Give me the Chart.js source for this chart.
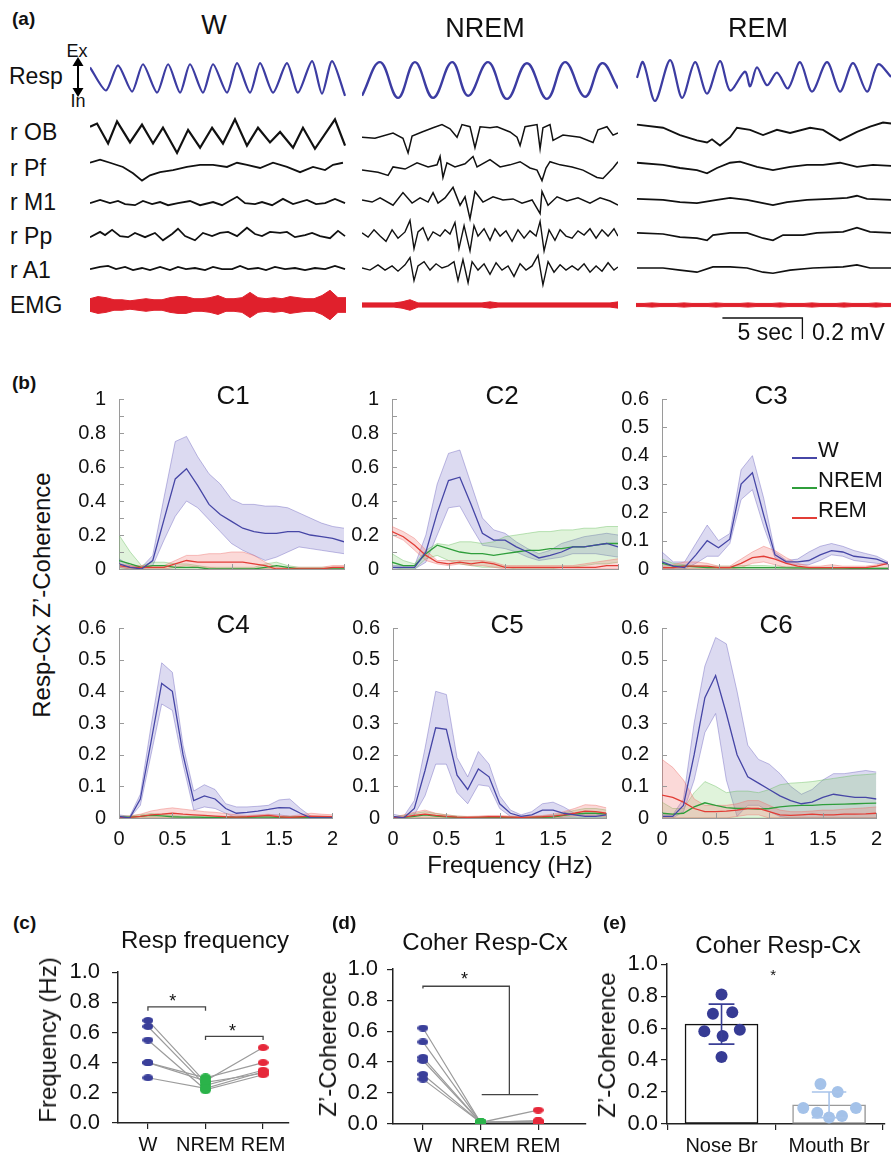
<!DOCTYPE html>
<html>
<head>
<meta charset="utf-8">
<script src="https://cdn.jsdelivr.net/npm/chart.js@4.4.1/dist/chart.umd.min.js"></script>
<style>
  body { margin: 0; background: #fff; }
  #page { position: relative; width: 891px; height: 1153px; overflow: hidden; background: #fff;
          font-family: "Liberation Sans", Arial, sans-serif; color: #111; }
  #page canvas { position: absolute; }
  .t { position: absolute; white-space: nowrap; line-height: 1; }
</style>
</head>
<body>
<div id="page"></div>
<script>
// ---------- (a) raw traces: [time s, amplitude] ; EEG amplitude in 10 uV units, resp arbitrary ----------
const RESP_W = [[0,12],[1.0,-10],[1.75,14],[2.63,-11],[3.31,15],[4.19,-12],[4.88,15],[5.63,-12],[6.25,15],[7.06,-12],[7.69,15],[8.56,-12],[9.19,16],[10.0,-12],[10.63,16],[11.44,-12],[12.31,16],[13.0,-12],[13.88,18],[14.5,-13],[15.13,18],[15.94,-15]];
const OB_W = [[0,6],[0.44,9],[1.13,-10],[1.69,11],[2.5,-9],[3.25,8],[3.94,-10],[4.56,5],[5.44,-19],[6.13,3],[6.88,-14],[7.63,5],[8.31,-10],[9.06,13],[9.81,-12],[10.5,5],[11.25,-9],[11.88,1],[12.69,-14],[13.31,5],[14.06,-15],[15.31,13],[15.94,-12]];
const PF_W = [[0,5],[0.63,8],[1.25,5],[2.06,1],[2.69,-5],[3.25,-12],[3.75,-7],[4.38,-4],[5.19,-2],[6.06,1],[6.88,3],[7.69,3],[8.56,1],[9.19,5],[9.81,3],[10.63,0],[11.44,5],[12.31,1],[13.13,-4],[13.94,1],[14.69,-2],[15.19,3],[15.81,5]];
const M1_W = [[0,-2],[0.63,1],[1.25,-2],[1.75,0],[2.19,-3],[2.81,-4],[3.31,0],[3.88,-3],[4.38,-1],[4.88,-4],[5.5,-2],[6.25,0],[6.88,-4],[7.69,-1],[8.25,-4],[9.19,4],[9.69,-2],[10.31,-3],[10.75,-1],[11.38,-4],[12.06,2],[12.69,-3],[13.56,1],[14.13,-3],[14.69,-2],[15.31,2],[15.94,-2]];
const PP_W = [[0,-3],[0.63,2],[0.94,-1],[1.38,4],[1.88,-2],[2.38,-3],[2.81,1],[3.44,-3],[4.06,1],[4.56,-6],[5.13,0],[5.5,5],[5.94,-2],[6.56,-6],[7.06,1],[7.63,-2],[8.13,1],[8.63,2],[9.19,-2],[9.81,6],[10.31,0],[10.75,-2],[11.25,2],[11.88,1],[12.31,2],[12.81,-3],[13.44,-1],[13.88,1],[14.38,-2],[15.0,-4],[15.5,3],[15.94,-2]];
const A1_W = [[0,-1],[0.63,1],[1.13,2],[1.63,-1],[2.19,1],[2.69,-2],[3.25,0],[3.75,-2],[4.38,1],[5.0,-2],[5.5,1],[6.0,-1],[6.56,0],[7.19,-2],[7.69,1],[8.25,-1],[8.88,-1],[9.38,2],[9.88,-1],[10.5,0],[11.0,-2],[11.56,1],[12.19,-1],[12.81,0],[13.44,-2],[14.06,0],[14.69,-1],[15.31,2],[15.94,-1]];

const RESP_NREM = [[0,-15],[1.13,17],[2.25,-17],[3.31,17],[4.44,-17],[5.63,17],[6.63,-15],[7.88,17],[9.06,-18],[10.31,16],[11.56,-18],[12.69,17],[13.94,-16],[15.0,16],[16.0,-8]];
const OB_NREM = [[0,-4],[0.81,-5],[1.94,0],[2.56,-5],[2.88,-19],[3.13,-3],[3.75,1],[4.44,5],[5.0,8],[5.5,4],[5.94,-4],[6.25,8],[6.75,6],[7.06,-14],[7.38,6],[8.0,5],[8.44,6],[9.25,1],[9.69,-4],[9.88,-12],[10.19,6],[10.94,8],[11.13,-15],[11.31,5],[11.75,8],[11.94,-7],[12.56,-2],[13.63,-4],[14.44,-9],[14.75,3],[15.31,6],[15.69,-2],[16.0,0]];
const PF_NREM = [[0,-2],[1.0,-4],[1.63,-7],[1.94,1],[2.69,-1],[3.44,5],[4.13,1],[4.69,3],[4.88,11],[5.06,-9],[5.31,5],[5.81,1],[6.44,4],[6.94,11],[7.19,1],[8.0,8],[8.63,1],[9.25,3],[9.88,6],[10.5,0],[10.94,-2],[11.25,-12],[11.5,0],[11.75,6],[12.38,3],[13.13,1],[13.81,-2],[14.69,-9],[15.06,-10],[15.69,0],[16.0,6]];
const M1_NREM = [[0,1],[0.63,-1],[1.13,3],[1.94,-4],[2.56,8],[3.13,-2],[3.63,3],[4.13,-1],[4.44,8],[4.75,-2],[5.19,3],[5.69,13],[6.13,-4],[6.44,4],[6.75,-17],[7.06,9],[7.56,-1],[8.19,4],[8.81,1],[9.44,2],[10.0,-2],[10.63,1],[11.13,-12],[11.25,9],[11.63,-4],[12.19,4],[12.81,0],[13.5,3],[14.25,-2],[14.88,3],[15.5,0],[16.0,-4]];
const PP_NREM = [[0,1],[0.38,-3],[0.75,4],[1.13,-2],[1.5,-7],[1.88,4],[2.25,-4],[2.69,2],[3.0,13],[3.25,-14],[3.5,2],[3.81,6],[4.13,-6],[4.44,2],[4.88,-2],[5.19,4],[5.5,0],[5.81,11],[6.06,-14],[6.38,8],[6.75,-16],[7.0,8],[7.25,-2],[7.63,5],[8.0,-6],[8.31,5],[8.63,-2],[9.0,3],[9.38,-7],[9.75,4],[10.13,-4],[10.5,3],[10.88,-2],[11.13,12],[11.38,-16],[11.69,4],[12.06,-6],[12.38,4],[12.75,-2],[13.13,-4],[13.5,3],[13.88,-1],[14.25,5],[14.63,-4],[15.0,4],[15.38,-2],[15.75,5],[16.0,-2]];
const A1_NREM = [[0,0],[0.5,-2],[1.0,3],[1.44,-2],[1.88,2],[2.25,-3],[2.69,3],[3.0,10],[3.25,-12],[3.5,2],[3.88,6],[4.25,-2],[4.63,4],[5.0,0],[5.38,2],[5.75,6],[6.0,-12],[6.31,8],[6.63,-14],[6.88,6],[7.25,-2],[7.63,4],[8.0,-6],[8.38,5],[8.75,-2],[9.13,2],[9.5,-8],[9.88,4],[10.25,-2],[10.63,2],[11.0,12],[11.31,-16],[11.63,6],[12.0,-4],[12.38,3],[12.75,-2],[13.13,2],[13.5,-2],[13.88,4],[14.25,-4],[14.63,2],[15.0,-3],[15.38,5],[15.75,-2],[16.0,1]];

const RESP_REM = [[0.06,2],[0.44,17],[1.19,-20],[2.13,19],[2.88,-17],[3.69,17],[4.44,-13],[5.25,18],[5.88,-10],[6.81,8],[7.13,-6],[7.56,12],[8.19,-5],[8.81,7],[9.5,-8],[10.25,17],[11.0,-11],[11.94,17],[12.75,-11],[13.56,16],[14.44,-11],[15.13,15],[15.94,3]];
const OB_REM = [[0.06,8],[1.69,5],[2.75,-2],[3.81,-7],[4.44,-9],[4.75,-6],[5.25,-12],[5.88,-4],[6.31,5],[7.13,3],[7.94,-2],[8.81,3],[9.63,0],[10.88,5],[11.69,3],[12.75,-7],[13.81,1],[14.63,6],[15.44,10],[15.94,9]];
const PF_REM = [[0.06,5],[1.69,3],[2.75,0],[3.81,-2],[4.44,-5],[5.06,0],[5.88,5],[6.5,6],[7.56,1],[8.56,-2],[9.63,1],[10.69,3],[11.69,3],[12.75,5],[13.81,1],[14.81,3],[15.94,2]];
const M1_REM = [[0.06,2],[1.69,1],[2.75,-1],[3.81,-2],[5.06,1],[5.88,3],[6.94,1],[7.94,-2],[8.56,-4],[9.44,-1],[10.69,1],[12.13,2],[13.19,3],[13.81,5],[14.44,2],[15.94,1]];
const PP_REM = [[0.06,1],[1.69,0],[2.75,-3],[3.81,-4],[4.44,-6],[4.81,-1],[5.88,1],[6.94,1],[7.94,-4],[8.56,-6],[9.19,-1],[10.44,-1],[11.31,1],[12.94,2],[13.81,6],[14.63,2],[15.94,1]];
const A1_REM = [[0.06,0],[1.69,0],[2.75,-2],[3.81,-4],[4.81,1],[5.88,1],[6.94,0],[7.94,-4],[8.56,-5],[9.63,-2],[11.06,0],[12.94,1],[13.81,3],[14.63,0],[15.94,0]];

// EMG envelope half-width (10 uV units), sampled every 0.5 s
const EMG_T = [0,0.5,1,1.5,2,2.5,3,3.5,4,4.5,5,5.5,6,6.5,7,7.5,8,8.5,9,9.5,10,10.5,11,11.5,12,12.5,13,13.5,14,14.5,15,15.5,16];
const EMG_W = [6,8,7,5,5,4,5,6,5,5,7,8,8,6,6,7,9,6,6,7,12,7,6,7,6,8,7,6,6,9,14,7,7];
const EMG_NREM = [2,2,2,2,2,3,5,2,2,2,2,2,2,2,2,2,3,2,2,2,2,2,2,2,2,2,2,2,2,2,2,2,3];
const EMG_REM = [1.5,1.5,2,1.5,1.5,1.5,2,1.5,1.5,1.5,2, 1.5,1.5,1.5,2,1.5,1.5,1.5,2,1.5,1.5,1.5, 2,1.5,1.5,1.5,2,1.5,1.5,1.5,2,1.5,1.5];
const SCALE_SEC = 5, SCALE_MV = 0.2;

// ---------- (b) Resp-Cx Z'-coherence spectra ----------
const FREQ = [0,0.1,0.2,0.3,0.4,0.5,0.6,0.7,0.8,0.9,1,1.1,1.2,1.3,1.4,1.5,1.6,1.7,1.8,1.9,2];
const ZERO21 = [0,0,0,0,0,0,0,0,0,0,0,0,0,0,0,0,0,0,0,0,0];

const C1_W_MEAN = [0.03,0.01,0.00,0.05,0.29,0.53,0.59,0.49,0.38,0.32,0.28,0.24,0.22,0.21,0.21,0.22,0.22,0.20,0.19,0.18,0.16];
const C1_W_HI   = [0.06,0.02,0.01,0.08,0.42,0.75,0.78,0.66,0.56,0.50,0.41,0.38,0.38,0.37,0.37,0.36,0.33,0.30,0.27,0.25,0.24];
const C1_W_LO   = [0.01,0.00,0.00,0.02,0.17,0.31,0.40,0.36,0.29,0.22,0.15,0.11,0.08,0.05,0.07,0.10,0.13,0.12,0.11,0.10,0.09];
const C1_N_MEAN = [0.05,0.03,0.01,0.02,0.02,0.01,0.01,0.01,0.00,0.00,0.00,0.00,0.00,0.01,0.02,0.01,0.00,0.00,0.00,0.00,0.00];
const C1_N_HI   = [0.20,0.10,0.02,0.04,0.04,0.03,0.03,0.02,0.01,0.01,0.01,0.01,0.01,0.03,0.04,0.02,0.01,0.01,0.01,0.01,0.01];
const C1_R_MEAN = [0.02,0.01,0.01,0.01,0.01,0.03,0.05,0.04,0.04,0.04,0.04,0.04,0.03,0.02,0.00,0.00,0.00,0.00,0.00,0.01,0.01];
const C1_R_HI   = [0.03,0.02,0.02,0.02,0.02,0.05,0.08,0.08,0.09,0.09,0.10,0.10,0.08,0.04,0.01,0.01,0.01,0.01,0.01,0.02,0.02];
const C1_R_LO   = [0.01,0,0,0,0,0.01,0.02,0.01,0.01,0,0,0,0,0,0,0,0,0,0,0,0];

const C2_W_MEAN = [0.01,0.01,0.01,0.10,0.33,0.52,0.54,0.38,0.21,0.17,0.17,0.13,0.10,0.065,0.08,0.10,0.13,0.13,0.14,0.15,0.13];
const C2_W_HI   = [0.02,0.02,0.02,0.20,0.50,0.68,0.70,0.50,0.30,0.23,0.21,0.16,0.12,0.09,0.11,0.15,0.17,0.19,0.20,0.21,0.20];
const C2_W_LO   = [0.00,0.00,0.00,0.04,0.20,0.36,0.37,0.25,0.14,0.13,0.12,0.10,0.07,0.05,0.06,0.07,0.09,0.09,0.09,0.08,0.07];
const C2_N_MEAN = [0.04,0.02,0.02,0.09,0.14,0.12,0.10,0.09,0.09,0.08,0.09,0.10,0.11,0.11,0.12,0.12,0.13,0.13,0.14,0.15,0.15];
const C2_N_HI   = [0.09,0.05,0.03,0.11,0.15,0.14,0.16,0.16,0.15,0.16,0.19,0.20,0.21,0.22,0.22,0.23,0.23,0.24,0.24,0.25,0.25];
const C2_N_LO   = [0.01,0.00,0.00,0.06,0.08,0.05,0.03,0.02,0.01,0.01,0.01,0.00,0.00,0.00,0.00,0.01,0.01,0.02,0.03,0.03,0.04];
const C2_R_MEAN = [0.22,0.19,0.14,0.08,0.04,0.03,0.04,0.03,0.04,0.03,0.01,0.01,0.01,0.01,0.01,0.01,0.01,0.01,0.01,0.02,0.02];
const C2_R_HI   = [0.25,0.22,0.18,0.11,0.05,0.05,0.05,0.05,0.05,0.04,0.02,0.02,0.02,0.02,0.02,0.02,0.02,0.03,0.04,0.05,0.06];
const C2_R_LO   = [0.20,0.17,0.11,0.05,0.03,0.02,0.03,0.02,0.02,0.01,0,0,0,0,0,0,0,0,0,0,0];

const C3_W_MEAN = [0.025,0.01,0.005,0.05,0.10,0.075,0.105,0.30,0.34,0.19,0.05,0.025,0.025,0.03,0.05,0.065,0.06,0.045,0.04,0.035,0.02];
const C3_W_HI   = [0.06,0.025,0.025,0.09,0.155,0.10,0.125,0.35,0.40,0.25,0.06,0.03,0.035,0.06,0.08,0.09,0.08,0.065,0.055,0.045,0.025];
const C3_W_LO   = [0,0,0,0.02,0.045,0.045,0.09,0.245,0.28,0.15,0.04,0.02,0.015,0.015,0.03,0.05,0.045,0.03,0.025,0.02,0.015];
const C3_N_MEAN = [0.02,0.01,0.01,0.008,0.005,0.005,0.005,0.005,0.005,0.005,0.005,0.004,0.004,0.003,0.003,0.003,0.003,0.002,0.002,0.002,0.002];
const C3_N_HI   = [0.035,0.02,0.015,0.012,0.01,0.01,0.01,0.012,0.012,0.012,0.01,0.008,0.008,0.006,0.006,0.006,0.005,0.005,0.004,0.004,0.004];
const C3_R_MEAN = [0.005,0.005,0.01,0.01,0.01,0.005,0.005,0.02,0.04,0.045,0.035,0.02,0.01,0.005,0.005,0.005,0.005,0.005,0.005,0.01,0.02];
const C3_R_HI   = [0.01,0.015,0.025,0.025,0.02,0.01,0.01,0.035,0.06,0.08,0.065,0.04,0.02,0.01,0.01,0.015,0.01,0.01,0.01,0.015,0.025];
const C3_R_LO   = [0,0,0,0,0,0,0,0.005,0.02,0.025,0.015,0.005,0,0,0,0,0,0,0,0,0];

const C4_W_MEAN = [0.005,0.0,0.06,0.24,0.425,0.40,0.20,0.055,0.07,0.06,0.03,0.015,0.018,0.022,0.027,0.033,0.032,0.015,0.0,0.0,0.0];
const C4_W_HI   = [0.01,0.005,0.075,0.29,0.49,0.46,0.23,0.085,0.105,0.09,0.045,0.035,0.035,0.037,0.04,0.057,0.06,0.03,0.005,0.0,0.0];
const C4_W_LO   = [0,0,0.04,0.20,0.36,0.34,0.17,0.025,0.035,0.03,0.015,0,0,0.005,0.01,0.01,0.005,0,0,0,0];
const C4_N_MEAN = [0.003,0.003,0.005,0.008,0.007,0.004,0.003,0.003,0.002,0.002,0.002,0.002,0.002,0.003,0.003,0.002,0.002,0.002,0.002,0.002,0.002];
const C4_N_HI   = [0.006,0.006,0.01,0.014,0.012,0.008,0.006,0.006,0.005,0.005,0.005,0.005,0.005,0.006,0.006,0.005,0.005,0.005,0.005,0.005,0.005];
const C4_R_MEAN = [0.0,0.002,0.005,0.01,0.012,0.015,0.012,0.01,0.008,0.006,0.004,0.003,0.004,0.006,0.008,0.004,0.002,0.004,0.006,0.005,0.004];
const C4_R_HI   = [0.005,0.007,0.012,0.022,0.028,0.032,0.028,0.024,0.02,0.018,0.014,0.01,0.008,0.01,0.012,0.008,0.006,0.01,0.015,0.012,0.01];

const C5_W_MEAN = [0.005,0.0,0.03,0.15,0.285,0.28,0.135,0.09,0.155,0.13,0.045,0.015,0.005,0.01,0.025,0.025,0.015,0.01,0.005,0.005,0.01];
const C5_W_HI   = [0.012,0.005,0.055,0.22,0.40,0.39,0.19,0.13,0.21,0.17,0.07,0.025,0.01,0.02,0.045,0.05,0.035,0.015,0.01,0.01,0.015];
const C5_W_LO   = [0,0,0.01,0.07,0.17,0.17,0.08,0.045,0.105,0.10,0.03,0.005,0,0,0.005,0.005,0,0,0,0,0];
const C5_N_MEAN = [0.0,0.002,0.005,0.01,0.006,0.004,0.002,0.001,0.001,0.001,0.001,0.001,0.001,0.001,0.002,0.003,0.008,0.012,0.015,0.015,0.012];
const C5_N_HI   = [0.004,0.008,0.014,0.02,0.014,0.01,0.006,0.004,0.004,0.004,0.004,0.004,0.004,0.004,0.006,0.008,0.016,0.024,0.03,0.03,0.025];
const C5_R_MEAN = [0.0,0.003,0.008,0.012,0.008,0.005,0.003,0.002,0.003,0.004,0.004,0.003,0.002,0.003,0.004,0.006,0.01,0.015,0.022,0.02,0.015];
const C5_R_HI   = [0.002,0.01,0.018,0.025,0.015,0.01,0.006,0.005,0.006,0.008,0.008,0.006,0.005,0.006,0.008,0.012,0.02,0.03,0.042,0.04,0.032];
const C5_R_LO   = [0,0,0,0.002,0,0,0,0,0,0,0,0,0,0,0,0,0.003,0.006,0.008,0.006,0.004];

const C6_W_MEAN = [0.005,0.005,0.04,0.20,0.38,0.45,0.33,0.20,0.13,0.11,0.09,0.07,0.055,0.045,0.05,0.065,0.075,0.07,0.065,0.065,0.06];
const C6_W_HI   = [0.01,0.01,0.06,0.30,0.48,0.57,0.55,0.40,0.23,0.185,0.17,0.14,0.10,0.075,0.09,0.12,0.14,0.14,0.145,0.15,0.145];
const C6_W_LO   = [0,0,0.02,0.12,0.27,0.33,0.12,0.005,0.04,0.04,0.02,0.005,0,0,0,0,0,0,0,0,0];
const C6_N_MEAN = [0.015,0.012,0.015,0.035,0.048,0.04,0.033,0.03,0.03,0.028,0.03,0.035,0.038,0.04,0.04,0.042,0.043,0.044,0.045,0.046,0.047];
const C6_N_HI   = [0.05,0.03,0.03,0.08,0.115,0.10,0.08,0.085,0.085,0.08,0.09,0.105,0.11,0.112,0.115,0.12,0.125,0.13,0.135,0.137,0.14];
const C6_R_MEAN = [0.072,0.065,0.05,0.03,0.02,0.02,0.022,0.025,0.03,0.03,0.02,0.01,0.008,0.01,0.012,0.01,0.01,0.012,0.012,0.013,0.015];
const C6_R_HI   = [0.185,0.16,0.12,0.06,0.04,0.04,0.04,0.045,0.055,0.055,0.04,0.025,0.02,0.02,0.022,0.025,0.025,0.028,0.03,0.032,0.035];
const C6_R_LO   = [0,0,0,0,0,0,0,0.005,0.01,0.01,0,0,0,0,0,0,0,0,0,0,0];

// ---------- (c) resp frequency, (d) coherence per state, 6 animals ----------
const STATES = ['W', 'NREM', 'REM'];
const RESPF_W = [0.68, 0.64, 0.55, 0.40, 0.40, 0.30];
const RESPF_NREM = [0.27, 0.25, 0.22, 0.30, 0.28, 0.23];
const RESPF_REM = [0.33, 0.35, 0.32, 0.40, 0.50, 0.34];
const COH_W = [0.62, 0.53, 0.43, 0.41, 0.32, 0.29];
const COH_NREM = [0.01, 0.01, 0.01, 0.01, 0.01, 0.01];
const COH_REM = [0.09, 0.02, 0.01, 0.02, 0.01, 0.01];

// ---------- (e) nose vs mouth breathing ----------
const BREATH = ['Nose Br', 'Mouth Br'];
const BREATH_MEAN = [0.625, 0.12];
const BREATH_SD = [0.125, 0.08];
const NOSE_BR = [0.81, 0.69, 0.70, 0.58, 0.59, 0.55, 0.42];
const MOUTH_BR = [0.25, 0.20, 0.10, 0.07, 0.04, 0.05, 0.10];

// =====================================================================
const FONT = '"Liberation Sans", Arial, sans-serif';
Chart.defaults.font.family = FONT;
Chart.defaults.color = '#111';
const page = document.getElementById('page');

function txt(s, x, y, size, o) {
  o = o || {};
  const d = document.createElement('div');
  d.className = 't';
  d.textContent = s;
  d.style.left = x + 'px';
  d.style.top = y + 'px';
  d.style.fontSize = size + 'px';
  if (o.bold) d.style.fontWeight = 'bold';
  const tx = o.align === 'left' ? '0' : (o.align === 'right' ? '-100%' : '-50%');
  d.style.transform = 'translate(' + tx + ',-50%)' + (o.rot ? ' rotate(-90deg)' : '');
  page.appendChild(d);
  return d;
}

function makeCanvas(l, t, w, h) {
  const c = document.createElement('canvas');
  c.width = w; c.height = h;
  c.style.left = l + 'px'; c.style.top = t + 'px';
  c.style.width = w + 'px'; c.style.height = h + 'px';
  page.appendChild(c);
  return c;
}

function baseOpts(extra) {
  return Object.assign({
    animation: false, responsive: false, devicePixelRatio: 1, events: [],
    layout: { padding: 0 },
    plugins: { legend: { display: false }, tooltip: { enabled: false } }
  }, extra);
}

// ----- (a) traces -----
const GAIN = 1.05;
const ROWS = { resp: 80, ob: 133, pf: 168, m1: 201, pp: 234, a1: 268, emg: 305 };
const BLUE = '#3c3ca2', RED = '#e0202c';

function trace(points, row, color, width, tension) {
  return {
    data: points.map(p => ({ x: p[0], y: ROWS[row] - p[1] * GAIN })),
    borderColor: color, borderWidth: width, pointRadius: 0, tension: tension || 0, fill: false
  };
}
function emg(env) {
  return [
    { data: env.map((a, i) => ({ x: EMG_T[i], y: ROWS.emg - a * GAIN })), borderColor: RED, borderWidth: 1, pointRadius: 0, fill: false },
    { data: env.map((a, i) => ({ x: EMG_T[i], y: ROWS.emg + a * GAIN })), borderColor: RED, borderWidth: 1, pointRadius: 0, fill: '-1', backgroundColor: RED }
  ];
}
function traceChart(left, sets) {
  const cv = makeCanvas(left, 40, 256, 305);
  new Chart(cv, {
    type: 'line',
    data: { datasets: sets },
    options: baseOpts({
      scales: {
        x: { type: 'linear', min: 0, max: 16, display: false },
        y: { type: 'linear', min: 40, max: 345, reverse: true, display: false }
      }
    })
  });
}

traceChart(90, [
  trace(RESP_W, 'resp', BLUE, 2.2, 0.25),
  trace(OB_W, 'ob', '#111', 2.2), trace(PF_W, 'pf', '#111', 1.8), trace(M1_W, 'm1', '#111', 1.8),
  trace(PP_W, 'pp', '#111', 1.8), trace(A1_W, 'a1', '#111', 1.8)
].concat(emg(EMG_W)));

traceChart(362, [
  trace(RESP_NREM, 'resp', BLUE, 2.4, 0.4),
  trace(OB_NREM, 'ob', '#111', 1.5), trace(PF_NREM, 'pf', '#111', 1.5), trace(M1_NREM, 'm1', '#111', 1.5),
  trace(PP_NREM, 'pp', '#111', 1.4), trace(A1_NREM, 'a1', '#111', 1.4)
].concat(emg(EMG_NREM)));

const SB_T0 = 5.4, SB_Y = 318;
traceChart(636, [
  trace(RESP_REM, 'resp', BLUE, 2.2, 0.3),
  trace(OB_REM, 'ob', '#111', 1.9), trace(PF_REM, 'pf', '#111', 1.8), trace(M1_REM, 'm1', '#111', 1.8),
  trace(PP_REM, 'pp', '#111', 1.7), trace(A1_REM, 'a1', '#111', 1.7),
  { data: [{ x: SB_T0, y: SB_Y }, { x: SB_T0 + SCALE_SEC, y: SB_Y }, { x: SB_T0 + SCALE_SEC, y: SB_Y + SCALE_MV * 100 * GAIN }],
    borderColor: '#111', borderWidth: 1.3, pointRadius: 0, fill: false }
].concat(emg(EMG_REM)));

// ----- (b) coherence spectra -----
const STYLE = {
  W:    { line: '#4646a6', edge: 'rgba(110,102,190,0.55)', band: 'rgba(120,112,200,0.26)' },
  NREM: { line: '#2f9e3b', edge: 'rgba(96,184,84,0.5)',   band: 'rgba(112,200,92,0.22)' },
  REM:  { line: '#e23d36', edge: 'rgba(236,112,108,0.55)', band: 'rgba(240,120,116,0.28)' }
};
const innerTicks = {
  id: 'innerTicks',
  afterDatasetsDraw(chart) {
    const { ctx, chartArea: a, scales: { x, y } } = chart;
    ctx.save();
    ctx.strokeStyle = '#9a9a9a';
    ctx.lineWidth = 1;
    ctx.beginPath();
    y.ticks.forEach(t => { const p = Math.round(y.getPixelForValue(t.value)) + 0.5; ctx.moveTo(a.left, p); ctx.lineTo(a.left + 5, p); });
    x.ticks.forEach(t => { const p = Math.round(x.getPixelForValue(t.value)) + 0.5; ctx.moveTo(p, a.bottom); ctx.lineTo(p, a.bottom - 5); });
    ctx.stroke();
    ctx.restore();
  }
};
const fmt1 = v => String(Math.round(v * 10) / 10);
function xy(arr) { return arr.map((v, i) => ({ x: FREQ[i], y: v })); }

function coherChart(l, t, w, h, ymax, everyOther, bottom, series) {
  const yw = 55, tp = 12, rp = 4, xh = bottom ? 34 : 4;
  const cv = makeCanvas(l - yw, t - tp, yw + w + rp, tp + h + xh);
  const sets = [];
  ['REM', 'NREM', 'W'].forEach(k => {
    const s = STYLE[k], d = series[k];
    sets.push({ data: xy(d[1]), borderColor: s.edge, borderWidth: 0.8, pointRadius: 0, fill: false });
    sets.push({ data: xy(d[2]), borderColor: s.edge, borderWidth: 0.8, pointRadius: 0, fill: '-1', backgroundColor: s.band });
    sets.push({ data: xy(d[0]), borderColor: s.line, borderWidth: 1.3, pointRadius: 0, fill: false, order: k === 'W' ? -2 : -1 });
  });
  new Chart(cv, {
    type: 'line',
    data: { datasets: sets },
    plugins: [innerTicks],
    options: baseOpts({
      layout: { padding: { top: tp, right: rp, left: 0, bottom: 0 } },
      scales: {
        x: {
          type: 'linear', min: 0, max: 2, afterFit: s => { s.height = xh; },
          ticks: { display: bottom, stepSize: 0.5, callback: fmt1, font: { size: 20 }, color: '#111', padding: 9, maxRotation: 0 },
          grid: { display: false, drawTicks: false }, border: { display: true, color: '#9a9a9a', width: 1 }
        },
        y: {
          type: 'linear', min: 0, max: ymax, afterFit: s => { s.width = yw; },
          ticks: {
            stepSize: 0.1, autoSkip: false, font: { size: 20 }, color: '#111', padding: 13,
            callback: v => { const r = Math.round(v * 10); return (everyOther && r % 2) ? '' : fmt1(v); }
          },
          grid: { display: false, drawTicks: false }, border: { display: true, color: '#9a9a9a', width: 1 }
        }
      }
    })
  });
}

coherChart(119, 386, 225, 204, 1, true, false,
  { W: [C1_W_MEAN, C1_W_HI, C1_W_LO], NREM: [C1_N_MEAN, C1_N_HI, ZERO21], REM: [C1_R_MEAN, C1_R_HI, C1_R_LO] });
coherChart(392, 386, 226, 204, 1, true, false,
  { W: [C2_W_MEAN, C2_W_HI, C2_W_LO], NREM: [C2_N_MEAN, C2_N_HI, C2_N_LO], REM: [C2_R_MEAN, C2_R_HI, C2_R_LO] });
coherChart(662, 386, 226, 204, 0.6, false, false,
  { W: [C3_W_MEAN, C3_W_HI, C3_W_LO], NREM: [C3_N_MEAN, C3_N_HI, ZERO21], REM: [C3_R_MEAN, C3_R_HI, C3_R_LO] });
coherChart(119, 615, 224, 203, 0.6, false, true,
  { W: [C4_W_MEAN, C4_W_HI, C4_W_LO], NREM: [C4_N_MEAN, C4_N_HI, ZERO21], REM: [C4_R_MEAN, C4_R_HI, ZERO21] });
coherChart(393, 615, 224, 203, 0.6, false, true,
  { W: [C5_W_MEAN, C5_W_HI, C5_W_LO], NREM: [C5_N_MEAN, C5_N_HI, ZERO21], REM: [C5_R_MEAN, C5_R_HI, C5_R_LO] });
coherChart(662, 615, 225, 203, 0.6, false, true,
  { W: [C6_W_MEAN, C6_W_HI, C6_W_LO], NREM: [C6_N_MEAN, C6_N_HI, ZERO21], REM: [C6_R_MEAN, C6_R_HI, C6_R_LO] });

// ----- (c) (d) (e) -----
const DOT = { W: '#3a3f9a', NREM: '#2bb34a', REM: '#e6283a' };
function ellipse(color, w, h) {
  const c = document.createElement('canvas');
  c.width = w; c.height = h;
  const g = c.getContext('2d');
  g.fillStyle = color;
  g.beginPath();
  g.ellipse(w / 2, h / 2, w / 2, h / 2, 0, 0, Math.PI * 2);
  g.fill();
  return c;
}
const notes = {
  id: 'notes',
  afterDatasetsDraw(chart, args, opts) {
    const { ctx, scales: { x, y } } = chart;
    (opts.items || []).forEach(n => {
      ctx.save();
      ctx.font = n.size + 'px ' + FONT;
      ctx.fillStyle = '#111';
      ctx.textAlign = 'center';
      ctx.textBaseline = 'middle';
      ctx.fillText(n.text, x.getPixelForValue(n.x), y.getPixelForValue(n.y));
      ctx.restore();
    });
  }
};

function dotScales(xmin, xmax, cats, catSize, yPad) {
  return {
    x: {
      type: 'linear', min: xmin, max: xmax, offset: false,
      afterFit: s => { s.height = 35; },
      afterBuildTicks: s => { s.ticks = cats.map((c, i) => ({ value: i })); },
      ticks: { callback: v => cats[v], font: { size: catSize }, color: '#111', padding: 4, maxRotation: 0, autoSkip: false },
      grid: { drawOnChartArea: false, drawTicks: true, tickLength: 6, color: '#222', lineWidth: 1.2 },
      border: { display: true, color: '#222', width: 1.5 }
    },
    y: {
      type: 'linear', min: 0, max: 1, afterFit: s => { s.width = 60; },
      ticks: { stepSize: 0.2, callback: v => v.toFixed(1), font: { size: 22 }, color: '#111', padding: yPad },
      grid: { drawOnChartArea: false, drawTicks: true, tickLength: 6, color: '#222', lineWidth: 1.2 },
      border: { display: true, color: '#222', width: 1.5 }
    }
  };
}

function pairedChart(l, t, w, h, xmin, xmax, groups, brackets, stars, yPad, catSize) {
  const cv = makeCanvas(l - 60, t - 12, 60 + w + 6, 12 + h + 35);
  const sets = [];
  groups[0].forEach((v, i) => {
    sets.push({ type: 'line', data: groups.map((g, k) => ({ x: k, y: g[i] })), borderColor: '#9c9c9c', borderWidth: 1.2, pointRadius: 0, fill: false, order: 3 });
  });
  brackets.forEach(b => {
    sets.push({ type: 'line', data: b.map(p => ({ x: p[0], y: p[1] })), borderColor: '#444', borderWidth: 1.3, pointRadius: 0, fill: false, order: 3 });
  });
  groups.forEach((g, k) => {
    const st = STATES[k];
    sets.push({ type: 'scatter', data: g.map(v => ({ x: k, y: v })), order: 0,
      pointStyle: ellipse(DOT[st], 11, st === 'NREM' ? 9 : 7), pointRadius: 6 });
  });
  new Chart(cv, {
    type: 'scatter',
    data: { datasets: sets },
    plugins: [notes],
    options: baseOpts({
      layout: { padding: { top: 12, right: 6, left: 0, bottom: 0 } },
      plugins: { legend: { display: false }, tooltip: { enabled: false }, notes: { items: stars } },
      scales: dotScales(xmin, xmax, STATES, catSize, yPad)
    })
  });
}

pairedChart(118, 959, 172, 164, -0.52, 2.45, [RESPF_W, RESPF_NREM, RESPF_REM],
  [[[0, 0.745], [0, 0.77], [1, 0.77], [1, 0.745]], [[1, 0.55], [1, 0.575], [2, 0.575], [2, 0.55]]],
  [{ text: '*', x: 0.43, y: 0.80, size: 18 }, { text: '*', x: 1.47, y: 0.60, size: 18 }], 12, 20);

pairedChart(393, 959, 194, 165, -0.52, 2.83, [COH_W, COH_NREM, COH_REM],
  [[[0, 0.875], [0, 0.89], [1.5, 0.89], [1.5, 0.19]], [[1.02, 0.19], [2, 0.19]]],
  [{ text: '*', x: 0.72, y: 0.93, size: 18 }], 9, 20);

// (e) bars with sd and individual dots
(function () {
  const l = 667, t = 960, w = 218, h = 164;
  const cv = makeCanvas(l - 60, t - 12, 60 + w + 6, 12 + h + 35);
  const NOSE_DX = [0, -0.08, 0.1, -0.16, 0.17, 0.01, 0];
  const MOUTH_DX = [-0.08, 0.08, -0.24, -0.11, 0, 0.12, 0.25];
  const CAP = [0.12, 0.16];
  const errColor = ['#3a3f96', '#a8c4ea'];
  const sets = [{
    type: 'bar', data: BREATH_MEAN.map((v, i) => ({ x: i, y: v })), order: 5,
    backgroundColor: '#fff', borderColor: ['#111', '#9a9a9a'], borderWidth: 1.5, borderSkipped: false, barThickness: 73
  }];
  BREATH_MEAN.forEach((m, i) => {
    const lo = m - BREATH_SD[i], hi = m + BREATH_SD[i];
    sets.push({ type: 'line', order: 1, data: [
      { x: i, y: lo }, { x: i, y: hi }, { x: i, y: null },
      { x: i - CAP[i], y: hi }, { x: i + CAP[i], y: hi }, { x: i, y: null },
      { x: i - CAP[i], y: lo }, { x: i + CAP[i], y: lo }
    ], borderColor: errColor[i], borderWidth: 1.6, pointRadius: 0, fill: false, spanGaps: false });
  });
  sets.push({ type: 'scatter', order: 2, data: NOSE_BR.map((v, i) => ({ x: NOSE_DX[i], y: v })), backgroundColor: '#363b94', borderWidth: 0, pointRadius: 6 });
  sets.push({ type: 'scatter', order: 2, data: MOUTH_BR.map((v, i) => ({ x: 1 + MOUTH_DX[i], y: v })), backgroundColor: '#a4c2e9', borderWidth: 0, pointRadius: 6 });
  new Chart(cv, {
    type: 'scatter',
    data: { datasets: sets },
    plugins: [notes],
    options: baseOpts({
      layout: { padding: { top: 12, right: 6, left: 0, bottom: 0 } },
      plugins: { legend: { display: false }, tooltip: { enabled: false }, notes: { items: [{ text: '*', x: 0.48, y: 0.93, size: 15 }] } },
      scales: dotScales(-0.507, 1.52, BREATH, 20, 3)
    })
  });
})();

// ----- text -----
txt('(a)', 12, 18, 19, { bold: true, align: 'left' });
txt('W', 214, 25, 27);
txt('NREM', 485, 28, 27);
txt('REM', 758, 28, 27);
txt('Resp', 9, 76, 23, { align: 'left' });
txt('Ex', 77, 51, 18);
txt('In', 78, 101, 18);
txt('r OB', 10, 132, 23, { align: 'left' });
txt('r Pf', 10, 168, 23, { align: 'left' });
txt('r M1', 10, 202, 23, { align: 'left' });
txt('r Pp', 10, 236, 23, { align: 'left' });
txt('r A1', 10, 270, 23, { align: 'left' });
txt('EMG', 10, 305, 23, { align: 'left' });
txt('5 sec', 765, 332, 23);
txt('0.2 mV', 812, 332, 23, { align: 'left' });

const arrow = document.createElementNS('http://www.w3.org/2000/svg', 'svg');
arrow.setAttribute('width', '14'); arrow.setAttribute('height', '40');
arrow.style.position = 'absolute'; arrow.style.left = '71px'; arrow.style.top = '57px';
arrow.innerHTML = '<line x1="7" y1="6" x2="7" y2="34" stroke="#000" stroke-width="2"/>' +
  '<polygon points="7,0 1.5,9 12.5,9" fill="#000"/><polygon points="7,40 1.5,31 12.5,31" fill="#000"/>';
page.appendChild(arrow);

txt('(b)', 12, 382, 19, { bold: true, align: 'left' });
txt('Resp-Cx Z\u2019-Coherence', 42, 595, 24, { rot: true });
txt('C1', 233, 395, 26);
txt('C2', 502, 395, 26);
txt('C3', 771, 395, 26);
txt('C4', 233, 624, 26);
txt('C5', 507, 624, 26);
txt('C6', 776, 624, 26);
txt('Frequency (Hz)', 510, 865, 24);

[['W', STYLE.W.line, 450], ['NREM', STYLE.NREM.line, 480], ['REM', STYLE.REM.line, 510]].forEach(r => {
  const ln = document.createElement('div');
  ln.style.cssText = 'position:absolute;left:792px;width:25px;height:0;border-top:2px solid ' + r[1] + ';top:' + (r[2] + 7) + 'px';
  page.appendChild(ln);
  txt(r[0], 818, r[2], 22, { align: 'left' });
});

txt('(c)', 13, 922, 19, { bold: true, align: 'left' });
txt('Resp frequency', 205, 940, 24);
txt('Frequency (Hz)', 48, 1040, 24, { rot: true });

txt('(d)', 332, 922, 19, { bold: true, align: 'left' });
txt('Coher Resp-Cx', 485, 942, 24);
txt('Z\u2019-Coherence', 328, 1044, 24, { rot: true });

txt('(e)', 603, 922, 19, { bold: true, align: 'left' });
txt('Coher Resp-Cx', 778, 945, 24);
txt('Z\u2019-Coherence', 607, 1045, 24, { rot: true });
</script>
</body>
</html>
